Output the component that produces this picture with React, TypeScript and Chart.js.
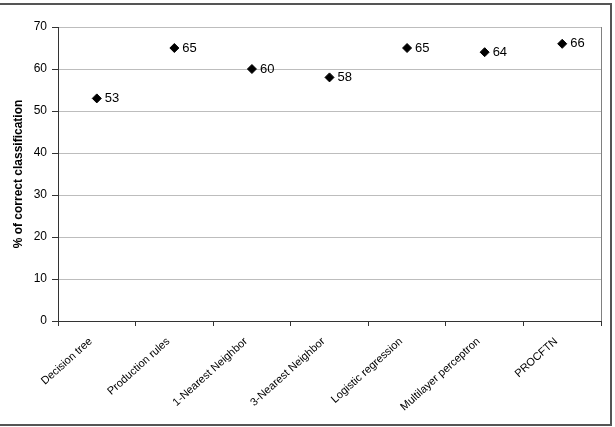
import React, { useEffect, useRef } from "react";
import { Chart, registerables } from "chart.js";

Chart.register(...registerables);

const categories = [
  "Decision tree",
  "Production rules",
  "1-Nearest Neighbor",
  "3-Nearest Neighbor",
  "Logistic regression",
  "Multilayer perceptron",
  "PROCFTN",
];
const values = [53, 65, 60, 58, 65, 64, 66];
const yTitle = "% of correct classification";
const yMin = 0;
const yMax = 70;
const yStep = 10;

const FONT = "'Liberation Sans', Arial, sans-serif";

const framePlugin = {
  id: "frame",
  beforeDraw(chart: any) {
    const ctx = chart.ctx;
    ctx.save();
    ctx.fillStyle = "#ffffff";
    ctx.fillRect(0, 0, chart.width, chart.height);
    ctx.strokeStyle = "#555555";
    ctx.lineWidth = 2;
    ctx.strokeRect(-2, 4, 613, 421);
    ctx.restore();
  },
  afterDraw(chart: any) {
    const { ctx, chartArea } = chart;
    ctx.save();
    ctx.strokeStyle = "#808080";
    ctx.lineWidth = 1;
    ctx.beginPath();
    ctx.moveTo(Math.round(chartArea.right) + 0.5, chartArea.top);
    ctx.lineTo(Math.round(chartArea.right) + 0.5, chartArea.bottom);
    ctx.stroke();
    // data labels
    const meta = chart.getDatasetMeta(0);
    ctx.fillStyle = "#000000";
    ctx.font = `13px ${FONT}`;
    ctx.textAlign = "left";
    ctx.textBaseline = "middle";
    meta.data.forEach((pt: any, i: number) => {
      ctx.fillText(String(values[i]), pt.x + 8, pt.y);
    });
    ctx.restore();
  },
};

export default function App() {
  const ref = useRef<HTMLCanvasElement | null>(null);
  useEffect(() => {
    if (!ref.current) return;
    const chart = new Chart(ref.current, {
      type: "line",
      data: {
        labels: categories,
        datasets: [
          {
            data: values,
            showLine: false,
            pointStyle: "rectRot",
            pointRadius: 4.5,
            pointBackgroundColor: "#000000",
            pointBorderColor: "#000000",
            borderColor: "#000000",
          },
        ],
      },
      options: {
        animation: false,
        responsive: false,
        maintainAspectRatio: false,
        layout: { padding: { top: 27, right: 14, left: 0, bottom: 0 } },
        plugins: {
          legend: { display: false },
          tooltip: { enabled: false },
        },
        scales: {
          x: {
            type: "category",
            offset: true,
            afterFit(scale: any) {
              scale.height = 106;
            },
            grid: {
              offset: true,
              drawOnChartArea: false,
              drawTicks: true,
              tickLength: 5,
              tickColor: "#333333",
            },
            border: { color: "#333333", width: 1 },
            ticks: {
              color: "#000000",
              font: { family: FONT, size: 11 },
              minRotation: 42,
              maxRotation: 42,
              autoSkip: false,
              padding: 9,
              labelOffset: -6,
            },
          },
          y: {
            min: yMin,
            max: yMax,
            afterFit(scale: any) {
              scale.width = 58;
            },
            grid: {
              color: "#bdbdbd",
              tickColor: "#333333",
              tickLength: 6,
            },
            border: { color: "#333333", width: 1 },
            ticks: {
              stepSize: yStep,
              color: "#000000",
              font: { family: FONT, size: 12 },
              padding: 5,
            },
            title: {
              display: true,
              text: yTitle,
              color: "#000000",
              font: { family: FONT, size: 12, weight: "bold" },
              padding: { top: 11, bottom: 0 },
            },
          },
        },
      },
      plugins: [framePlugin],
    });
    return () => chart.destroy();
  }, []);
  return (
    <div style={{ position: "fixed", left: 0, top: 0, width: 615, height: 427 }}>
      <canvas ref={ref} width={615} height={427} style={{ width: 615, height: 427, display: "block" }} />
    </div>
  );
}
